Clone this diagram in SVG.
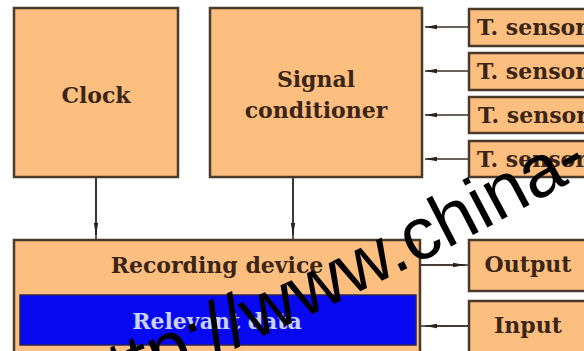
<svg xmlns="http://www.w3.org/2000/svg" width="584" height="351" viewBox="0 0 584 351">
  <style>
    .box { fill: #FDBF80; stroke: #4A3A2C; stroke-width: 2.5; }
    .lbl { font-family: "DejaVu Serif", "Liberation Serif", serif; font-weight: bold; font-size: 22px; fill: #3B2515; }
    .mid { text-anchor: middle; }
    .wire { stroke: #3A2E26; stroke-width: 1.6; fill: none; }
    .mark { font-family: "Liberation Sans", Arial, sans-serif; font-size: 74px; fill: #000; }
  </style>
  <defs>
    <marker id="tip" viewBox="0 0 12 6" refX="12" refY="3" markerWidth="12" markerHeight="6" markerUnits="userSpaceOnUse" orient="auto">
      <path d="M0,0.8 L12,3 L0,5.2 z" fill="#2A211B"/>
    </marker>
    <path id="wmPath" d="M60 417 Q340 316.1 620 154.1"/>
  </defs>

  <rect width="584" height="351" fill="#FFFFFF"/>

  <!-- connectors -->
  <g id="connectors">
    <line class="wire" x1="469" y1="27" x2="425" y2="27" marker-end="url(#tip)"/>
    <line class="wire" x1="469" y1="71" x2="425" y2="71" marker-end="url(#tip)"/>
    <line class="wire" x1="469" y1="115" x2="425" y2="115" marker-end="url(#tip)"/>
    <line class="wire" x1="469" y1="159" x2="425" y2="159" marker-end="url(#tip)"/>
    <line class="wire" x1="96" y1="177" x2="96" y2="240"/>
    <line class="wire" x1="96" y1="177" x2="96" y2="235" marker-end="url(#tip)"/>
    <line class="wire" x1="293" y1="177" x2="293" y2="240"/>
    <line class="wire" x1="293" y1="177" x2="293" y2="235" marker-end="url(#tip)"/>
    <line class="wire" x1="420" y1="265" x2="469" y2="265"/>
    <line class="wire" x1="420" y1="265" x2="465" y2="265" marker-end="url(#tip)"/>
    <line class="wire" x1="469" y1="326" x2="420" y2="326"/>
    <line class="wire" x1="469" y1="326" x2="425" y2="326" marker-end="url(#tip)"/>
  </g>

  <g id="clock">
    <rect class="box" x="14" y="8" width="164" height="169"/>
    <text class="lbl mid" x="96" y="103">Clock</text>
  </g>

  <g id="signal-conditioner">
    <rect class="box" x="210" y="8" width="212" height="169"/>
    <text class="lbl mid" x="316" y="87">Signal</text>
    <text class="lbl mid" x="316" y="118">conditioner</text>
  </g>

  <g id="sensor-1">
    <rect class="box" x="469" y="9" width="130" height="37"/>
    <text class="lbl" x="477" y="35">T. sensor</text>
  </g>
  <g id="sensor-2">
    <rect class="box" x="469" y="53" width="130" height="37"/>
    <text class="lbl" x="477" y="79">T. sensor</text>
  </g>
  <g id="sensor-3">
    <rect class="box" x="469" y="97" width="130" height="36"/>
    <text class="lbl" x="478" y="123">T. sensor</text>
  </g>
  <g id="sensor-4">
    <rect class="box" x="469" y="141" width="130" height="36"/>
    <text class="lbl" x="477" y="167">T. sensor</text>
  </g>

  <g id="recording-device">
    <rect class="box" x="14" y="240" width="406" height="130"/>
    <text class="lbl mid" x="217" y="273">Recording device</text>
    <g id="relevant-data">
      <rect x="20" y="295" width="396" height="50" fill="#0808F2" stroke="#2A2258" stroke-width="1.5"/>
      <text class="lbl mid" x="217" y="329" style="fill:#C9D3F7">Relevant data</text>
    </g>
  </g>

  <g id="output">
    <rect class="box" x="469" y="240" width="130" height="51"/>
    <text class="lbl mid" x="528" y="272">Output</text>
  </g>

  <g id="input">
    <rect class="box" x="469" y="301" width="130" height="70"/>
    <text class="lbl mid" x="528" y="333">Input</text>
  </g>

  <!-- overprinted address -->
  <text class="mark"><textPath href="#wmPath" startOffset="23">http://www.china-</textPath></text>
</svg>
